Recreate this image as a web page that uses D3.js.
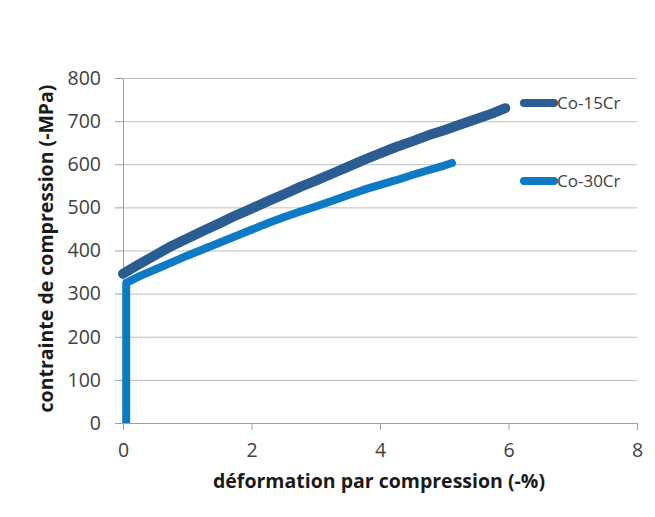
<!DOCTYPE html>
<html lang="fr">
<head>
<meta charset="UTF-8"/>
<title>Compression Co-Cr</title>
<script src="https://d3js.org/d3.v7.min.js"></script>
<style>
  body { margin: 0; background: #fff; }
  svg text { font-family: "Open Sans", "Noto Sans", sans-serif; }
</style>
</head>
<body>
<script>
  // series: deformation (-%) and stress (-MPa)
  var strain15 = [0, 0.25, 0.5, 0.75, 1.0, 1.25, 1.5, 1.75, 2.0, 2.25, 2.5, 2.75, 3.0, 3.25, 3.5, 3.75, 4.0, 4.25, 4.5, 4.75, 5.0, 5.25, 5.5, 5.75, 5.95];
  var stress15 = [346, 368, 389, 410, 428, 446, 463, 481, 497, 514, 530, 547, 562, 578, 594, 610, 625, 640, 653, 667, 679, 692, 705, 718, 730];

  var strain30 = [0.05, 0.05, 0.25, 0.5, 0.75, 1.0, 1.25, 1.5, 1.75, 2.0, 2.25, 2.5, 2.75, 3.0, 3.25, 3.5, 3.75, 4.0, 4.25, 4.5, 4.75, 5.0, 5.12];
  var stress30 = [0, 325, 340, 356, 372, 388, 403, 418, 433, 448, 463, 477, 490, 502, 515, 528, 541, 552, 563, 575, 586, 597, 603];

  var seriesNames = ["Co-15Cr", "Co-30Cr"];
  var colors = ["#2b5d92", "#0c7ac4"];
  var xTicks = [0, 2, 4, 6, 8];
  var yTicks = [0, 100, 200, 300, 400, 500, 600, 700, 800];

  var w = 655, h = 517;
  var padL = 123, padR = 637, padT = 78, padB = 423;

  var svg = d3.select("body").append("svg")
      .attr("width", w)
      .attr("height", h);

  var xScale = d3.scaleLinear().domain([0, 8]).range([padL, padR]);
  var yScale = d3.scaleLinear().domain([0, 800]).range([padB, padT]);

  // horizontal gridlines
  svg.append("g")
      .attr("transform", "translate(" + padL + ",0)")
      .call(d3.axisLeft(yScale).tickValues(yTicks.slice(1)).tickSize(-(padR - padL)).tickFormat(""))
      .call(function(g) { g.select(".domain").remove(); })
      .selectAll("line").attr("stroke", "#bfbfbf");

  // y axis
  var yAxis = svg.append("g")
      .attr("transform", "translate(" + padL + ",0)")
      .call(d3.axisLeft(yScale).tickValues(yTicks).tickSize(8).tickSizeOuter(0).tickPadding(14));
  yAxis.select(".domain").attr("stroke", "#9f9f9f");
  yAxis.selectAll("line").attr("stroke", "#9f9f9f");
  yAxis.selectAll("text").attr("font-size", 19.5).attr("fill", "#404040")
      .attr("font-family", "Open Sans");

  // x axis
  var xAxis = svg.append("g")
      .attr("transform", "translate(0," + padB + ")")
      .call(d3.axisBottom(xScale).tickValues(xTicks).tickSize(7).tickSizeOuter(0).tickPadding(13));
  xAxis.select(".domain").attr("stroke", "#9f9f9f");
  xAxis.selectAll("line").attr("stroke", "#9f9f9f");
  xAxis.selectAll("text").attr("font-size", 19.5).attr("fill", "#404040")
      .attr("font-family", "Open Sans");

  // axis titles
  svg.append("text")
      .attr("x", 379)
      .attr("y", 488)
      .attr("text-anchor", "middle")
      .attr("font-size", 19.5)
      .attr("font-weight", "bold")
      .attr("fill", "#1a1a1a")
      .text("déformation par compression (-%)");

  svg.append("text")
      .attr("transform", "translate(53," + ((padT + padB) / 2 - 2) + ") rotate(-90)")
      .attr("text-anchor", "middle")
      .attr("font-size", 19.5)
      .attr("font-weight", "bold")
      .attr("fill", "#1a1a1a")
      .text("contrainte de compression (-MPa)");

  // clip at the x axis so the vertical start ends flat
  svg.append("clipPath").attr("id", "plot")
    .append("rect").attr("x", padL - 10).attr("y", 0).attr("width", padR - padL + 20).attr("height", padB);

  var line = d3.line()
      .x(function(d) { return xScale(d[0]); })
      .y(function(d) { return yScale(d[1]); });

  var data = [d3.zip(strain15, stress15), d3.zip(strain30, stress30)];

  svg.append("g").attr("clip-path", "url(#plot)")
    .selectAll("path")
    .data(data)
    .enter()
    .append("path")
      .attr("d", line)
      .attr("fill", "none")
      .attr("stroke", function(d, i) { return colors[i]; })
      .attr("stroke-width", function(d, i) { return i === 0 ? 10 : 8; })
      .attr("stroke-linecap", "round")
      .attr("stroke-linejoin", "round");

  // legend
  var legendY = [103, 181];
  var legend = svg.selectAll(".legend")
      .data(seriesNames)
      .enter()
      .append("g")
      .attr("class", "legend")
      .attr("transform", function(d, i) { return "translate(524," + legendY[i] + ")"; });

  legend.append("line")
      .attr("x1", 0).attr("x2", 30)
      .attr("stroke", function(d, i) { return colors[i]; })
      .attr("stroke-width", 8)
      .attr("stroke-linecap", "round");

  legend.append("text")
      .attr("x", 33)
      .attr("dy", "0.35em")
      .attr("font-size", 17)
      .attr("fill", "#404040")
      .text(function(d) { return d; });
</script>
</body>
</html>
